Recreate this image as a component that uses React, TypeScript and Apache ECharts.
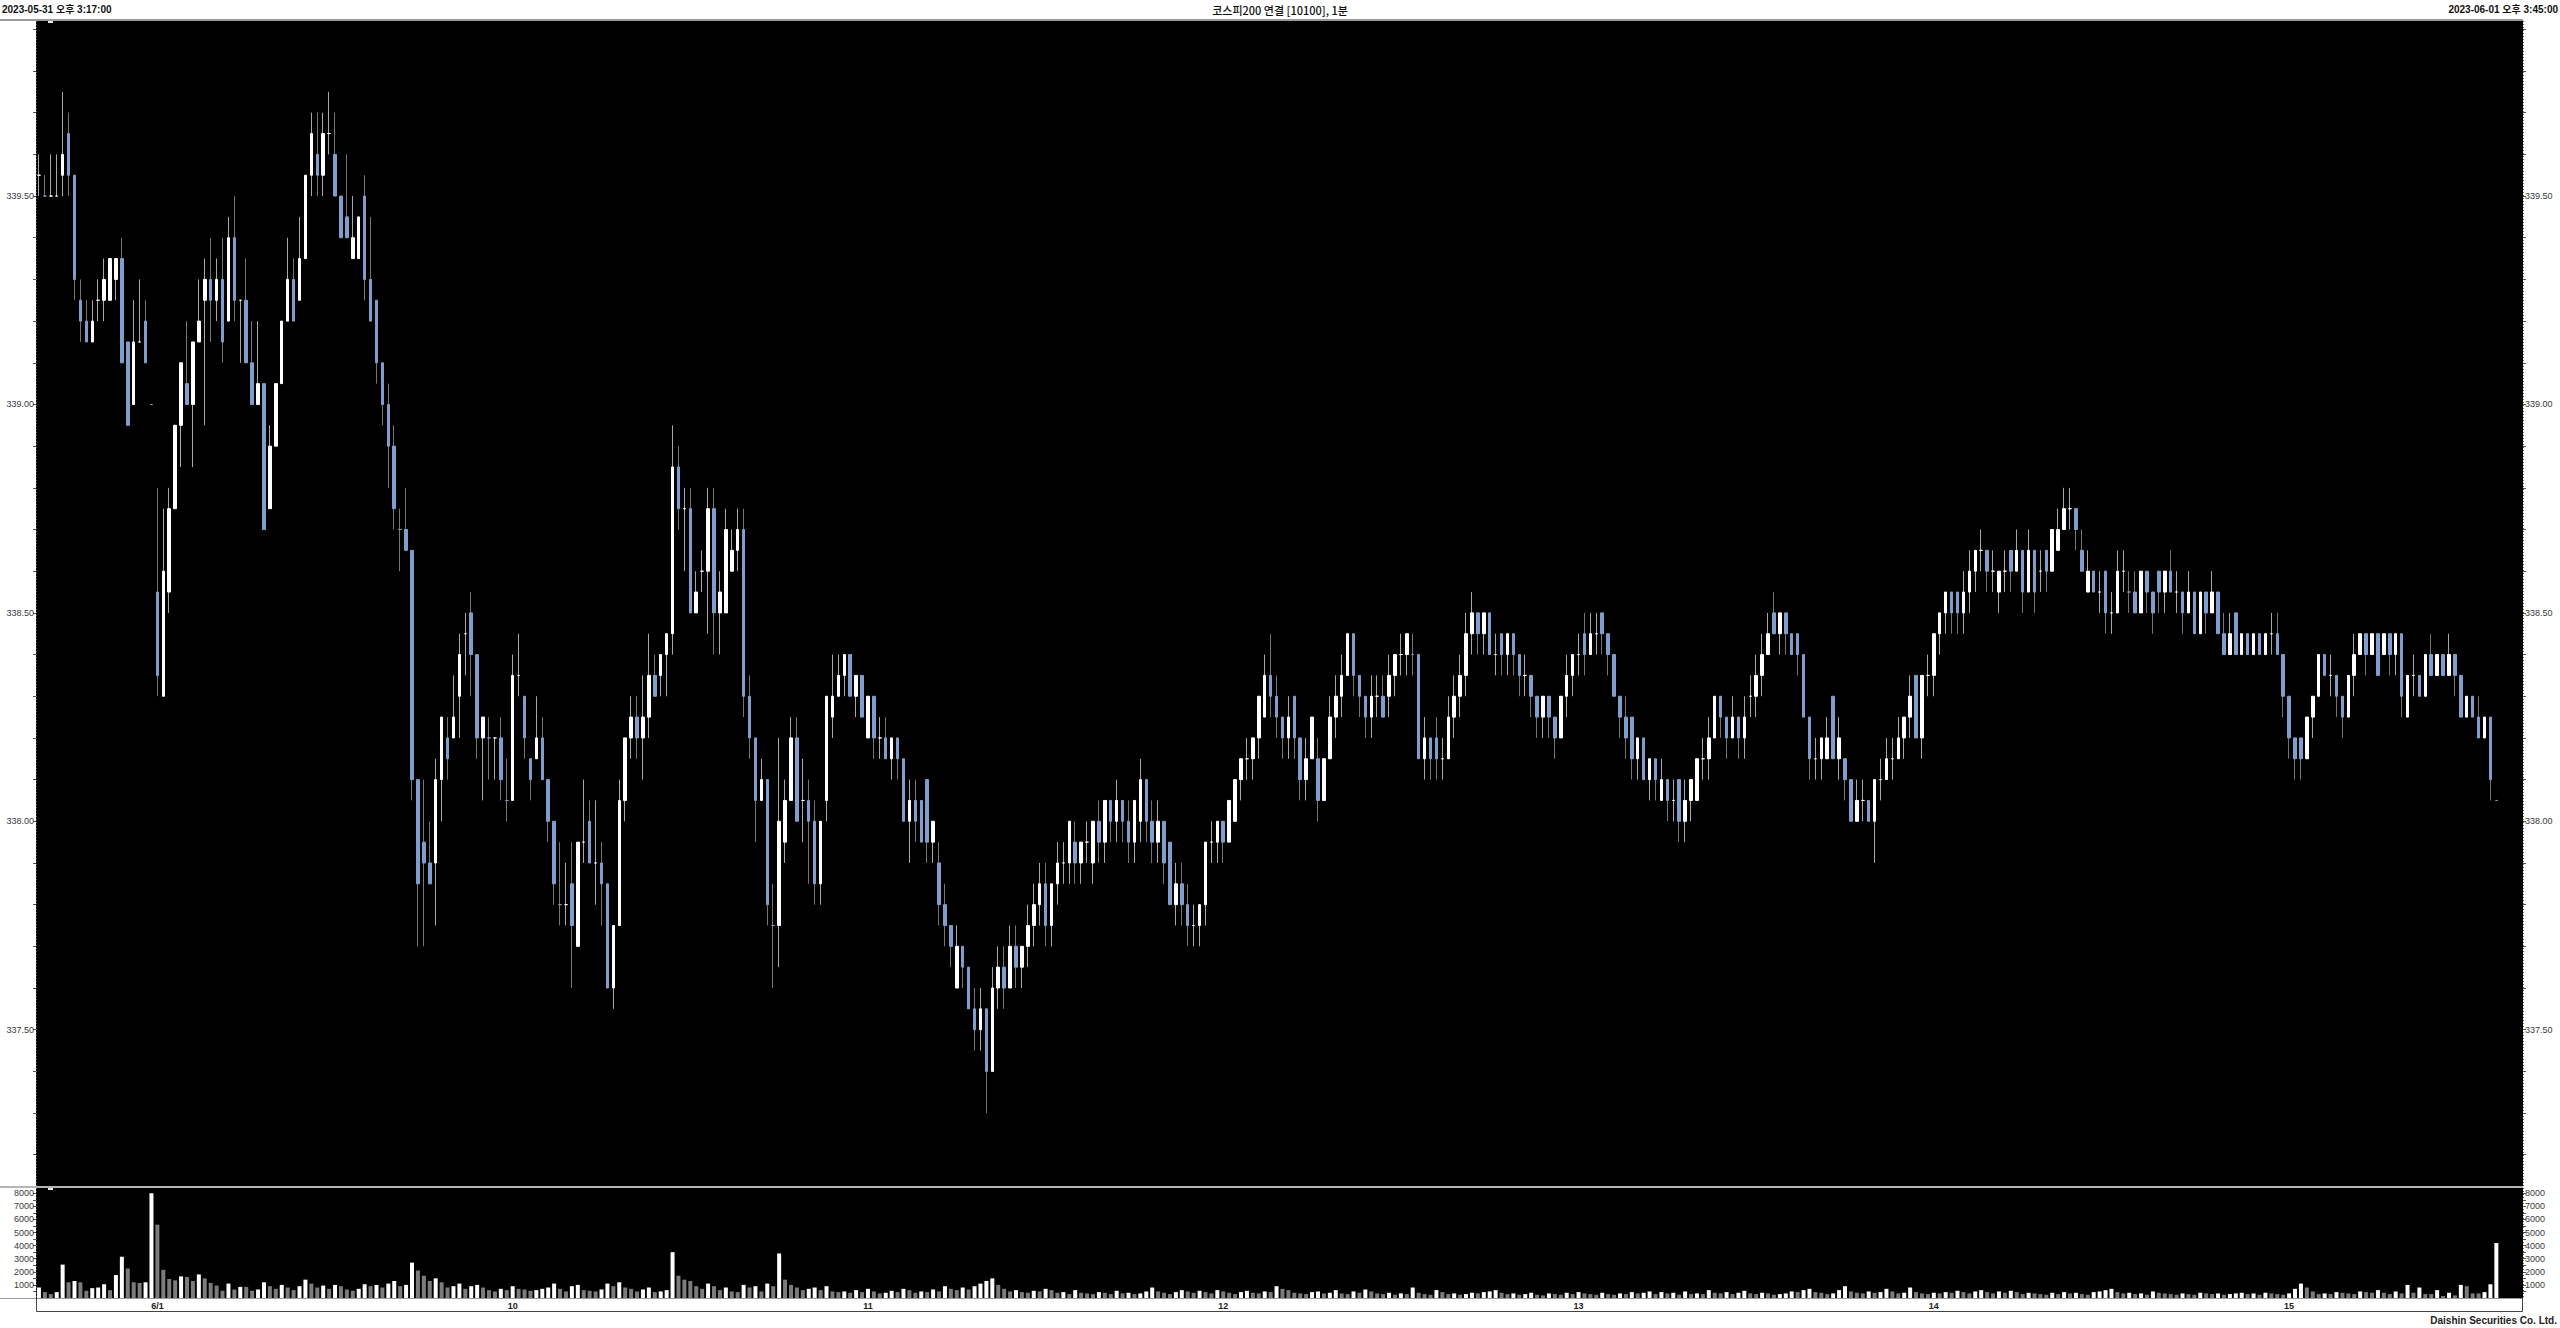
import React, { useEffect, useRef } from "react";
import * as echarts from "echarts";

const TITLE = "코스피200 연결 [10100], 1분";
const START_TEXT = "2023-05-31 오후 3:17:00";
const END_TEXT = "2023-06-01 오후 3:45:00";
const FOOTER = "Daishin Securities Co. Ltd.";

function minuteLabels(from: number, to: number): string[] {
  const out: string[] = [];
  for (let t = from; t <= to; t++) {
    const h = Math.floor(t / 60);
    const m = t % 60;
    out.push(`${h}:${m < 10 ? "0" + m : m}`);
  }
  return out;
}
const day1Times = [...minuteLabels(15 * 60 + 17, 15 * 60 + 35), "15:45"];
const day2Times = [...minuteLabels(9 * 60, 15 * 60 + 34), "15:45"];
const PAD = 4;
const categories: string[] = [
  ...day1Times.map((t) => "05/31 " + t),
  ...day2Times.map((t) => "06/01 " + t),
  ...Array.from({ length: PAD }, () => ""),
];
const DAY_BREAK = day1Times.length;

// [open, high, low, close]
const day1Candles: number[][] = [
  [339.55, 339.6, 339.5, 339.55], [339.5, 339.55, 339.5, 339.5], [339.5, 339.6, 339.5, 339.5], [339.5, 339.6, 339.5, 339.5],
  [339.55, 339.75, 339.5, 339.6], [339.65, 339.7, 339.5, 339.55], [339.55, 339.55, 339.25, 339.3], [339.25, 339.3, 339.15, 339.2],
  [339.2, 339.25, 339.15, 339.15], [339.15, 339.25, 339.15, 339.2], [339.25, 339.3, 339.2, 339.25], [339.25, 339.35, 339.2, 339.3],
  [339.25, 339.35, 339.25, 339.35], [339.3, 339.35, 339.25, 339.35], [339.35, 339.4, 339.1, 339.1], [339.15, 339.15, 338.95, 338.95],
  [339.0, 339.25, 339.0, 339.15], [339.15, 339.3, 339.15, 339.15], [339.2, 339.25, 339.1, 339.1], [339.0, 339.0, 339.0, 339.0],
];

// 6/1 09:00 - 10:55
const day2CandlesA: number[][] = [
  [338.55, 338.8, 338.3, 338.35], [338.3, 338.75, 338.3, 338.6], [338.55, 338.8, 338.5, 338.75], [338.75, 338.95, 338.75, 338.95],
  [338.95, 339.1, 338.85, 339.1], [339.05, 339.2, 339.0, 339.0], [339.0, 339.15, 338.85, 339.15], [339.15, 339.3, 339.15, 339.2],
  [339.25, 339.35, 338.95, 339.3], [339.3, 339.4, 339.15, 339.25], [339.25, 339.35, 339.2, 339.3], [339.3, 339.4, 339.1, 339.15],
  [339.2, 339.45, 339.2, 339.4], [339.4, 339.5, 339.2, 339.25], [339.25, 339.25, 339.1, 339.25], [339.25, 339.35, 339.1, 339.1],
  [339.1, 339.2, 339.0, 339.0], [339.0, 339.2, 339.0, 339.05], [339.05, 339.05, 338.7, 338.7], [338.75, 338.95, 338.75, 338.9],
  [338.9, 339.05, 338.9, 339.05], [339.05, 339.2, 339.05, 339.2], [339.2, 339.4, 339.2, 339.3], [339.3, 339.35, 339.2, 339.2],
  [339.25, 339.45, 339.25, 339.35], [339.35, 339.55, 339.35, 339.55], [339.55, 339.7, 339.5, 339.65], [339.6, 339.7, 339.5, 339.55],
  [339.55, 339.7, 339.5, 339.65], [339.65, 339.75, 339.6, 339.65], [339.6, 339.7, 339.5, 339.5], [339.5, 339.5, 339.4, 339.4],
  [339.45, 339.6, 339.4, 339.4], [339.35, 339.5, 339.35, 339.4], [339.35, 339.45, 339.35, 339.45], [339.5, 339.55, 339.25, 339.3],
  [339.3, 339.45, 339.2, 339.2], [339.25, 339.25, 339.05, 339.1], [339.1, 339.1, 338.95, 339.0], [339.0, 339.05, 338.8, 338.9],
  [338.9, 338.95, 338.7, 338.75], [338.7, 338.75, 338.6, 338.7], [338.7, 338.8, 338.65, 338.65], [338.65, 338.65, 338.05, 338.1],
  [338.1, 338.1, 337.7, 337.85], [337.95, 338.1, 337.7, 337.9], [337.9, 338.0, 337.85, 337.85], [337.9, 338.15, 337.75, 338.1],
  [338.1, 338.25, 338.0, 338.25], [338.2, 338.25, 338.1, 338.15], [338.2, 338.35, 338.2, 338.25], [338.3, 338.45, 338.2, 338.4],
  [338.45, 338.5, 338.35, 338.45], [338.5, 338.55, 338.3, 338.4], [338.4, 338.4, 338.15, 338.2], [338.2, 338.25, 338.05, 338.25],
  [338.2, 338.25, 338.1, 338.2], [338.2, 338.2, 338.1, 338.2], [338.2, 338.25, 338.05, 338.1], [338.05, 338.15, 338.0, 338.05],
  [338.05, 338.4, 338.05, 338.35], [338.35, 338.45, 338.3, 338.35], [338.3, 338.3, 338.15, 338.2], [338.15, 338.15, 338.05, 338.1],
  [338.15, 338.3, 338.15, 338.2], [338.2, 338.25, 338.1, 338.1], [338.1, 338.1, 337.95, 338.0], [338.0, 338.0, 337.8, 337.85],
  [337.8, 337.95, 337.75, 337.8], [337.8, 337.9, 337.75, 337.8], [337.85, 337.95, 337.6, 337.75], [337.7, 337.95, 337.7, 337.95],
  [337.95, 338.1, 337.9, 337.95], [338.0, 338.05, 337.9, 337.9], [337.9, 338.05, 337.8, 337.9], [337.9, 337.95, 337.75, 337.85],
  [337.85, 337.85, 337.6, 337.6], [337.6, 337.75, 337.55, 337.75], [337.75, 338.1, 337.75, 338.05], [338.05, 338.2, 338.0, 338.2],
  [338.2, 338.3, 338.15, 338.25], [338.25, 338.3, 338.15, 338.2], [338.2, 338.35, 338.1, 338.25], [338.25, 338.45, 338.2, 338.35],
  [338.35, 338.4, 338.3, 338.3], [338.35, 338.4, 338.3, 338.4], [338.4, 338.45, 338.3, 338.45], [338.45, 338.95, 338.4, 338.85],
  [338.85, 338.9, 338.7, 338.75], [338.75, 338.8, 338.6, 338.75], [338.75, 338.8, 338.5, 338.5], [338.5, 338.6, 338.5, 338.55],
  [338.6, 338.65, 338.55, 338.6], [338.6, 338.8, 338.45, 338.75], [338.75, 338.8, 338.4, 338.5], [338.5, 338.6, 338.4, 338.55],
  [338.5, 338.75, 338.5, 338.7], [338.6, 338.7, 338.6, 338.65], [338.65, 338.75, 338.6, 338.7], [338.7, 338.75, 338.25, 338.3],
  [338.3, 338.35, 338.15, 338.2], [338.2, 338.2, 337.95, 338.05], [338.05, 338.15, 338.05, 338.1], [338.1, 338.1, 337.75, 337.8],
  [337.75, 337.85, 337.6, 337.75], [337.75, 338.2, 337.65, 338.0], [337.95, 338.1, 337.9, 338.05], [338.05, 338.25, 338.05, 338.2],
  [338.2, 338.25, 338.0, 338.0], [338.05, 338.15, 337.95, 338.05], [338.05, 338.1, 337.85, 338.0], [338.0, 338.05, 337.8, 337.85],
  [337.85, 338.0, 337.8, 338.0], [338.05, 338.3, 338.0, 338.3], [338.25, 338.4, 338.2, 338.3], [338.3, 338.4, 338.3, 338.35],
];

// 6/1 10:56 - 13:15
const day2CandlesB: number[][] = [
  [338.35, 338.4, 338.3, 338.4], [338.4, 338.4, 338.3, 338.3], [338.3, 338.35, 338.25, 338.35], [338.35, 338.35, 338.25, 338.25],
  [338.2, 338.3, 338.2, 338.3], [338.3, 338.3, 338.15, 338.2], [338.2, 338.25, 338.15, 338.2], [338.2, 338.25, 338.15, 338.15],
  [338.15, 338.2, 338.1, 338.2], [338.2, 338.2, 338.1, 338.15], [338.15, 338.15, 338.0, 338.0], [338.0, 338.1, 337.9, 338.05],
  [338.05, 338.1, 337.95, 338.0], [338.05, 338.05, 337.95, 337.95], [338.1, 338.1, 337.9, 337.95], [337.95, 338.0, 337.9, 338.0],
  [337.9, 337.95, 337.75, 337.8], [337.8, 337.85, 337.7, 337.75], [337.75, 337.75, 337.65, 337.7], [337.6, 337.75, 337.6, 337.7],
  [337.7, 337.7, 337.6, 337.65], [337.65, 337.65, 337.55, 337.55], [337.55, 337.6, 337.45, 337.5], [337.5, 337.6, 337.45, 337.55],
  [337.55, 337.55, 337.3, 337.4], [337.4, 337.65, 337.4, 337.6], [337.6, 337.7, 337.55, 337.65], [337.65, 337.7, 337.55, 337.6],
  [337.6, 337.75, 337.6, 337.7], [337.7, 337.75, 337.6, 337.65], [337.65, 337.7, 337.6, 337.7], [337.7, 337.8, 337.65, 337.75],
  [337.75, 337.85, 337.7, 337.8], [337.8, 337.9, 337.75, 337.85], [337.85, 337.9, 337.7, 337.75], [337.75, 337.85, 337.7, 337.85],
  [337.85, 337.95, 337.8, 337.9], [337.9, 337.95, 337.85, 337.9], [337.9, 338.0, 337.85, 338.0], [337.95, 338.0, 337.85, 337.9],
  [337.9, 337.95, 337.85, 337.95], [337.95, 338.0, 337.9, 337.95], [337.9, 338.0, 337.85, 338.0], [338.0, 338.05, 337.9, 337.95],
  [337.95, 338.05, 337.9, 338.05], [338.05, 338.05, 337.95, 338.0], [338.0, 338.1, 337.95, 338.05], [338.05, 338.05, 337.95, 338.0],
  [338.0, 338.05, 337.9, 337.95], [337.95, 338.05, 337.9, 338.05], [338.0, 338.15, 337.95, 338.1], [338.1, 338.1, 337.95, 338.0],
  [338.0, 338.05, 337.9, 337.95], [337.95, 338.05, 337.9, 338.0], [338.0, 338.0, 337.85, 337.9], [337.95, 337.95, 337.8, 337.8],
  [337.8, 337.9, 337.75, 337.85], [337.85, 337.9, 337.75, 337.8], [337.8, 337.85, 337.7, 337.75], [337.75, 337.8, 337.7, 337.75],
  [337.75, 337.8, 337.7, 337.8], [337.8, 337.95, 337.75, 337.95], [337.95, 338.0, 337.9, 337.95], [337.95, 338.0, 337.9, 338.0],
  [338.0, 338.0, 337.9, 337.95], [337.95, 338.05, 337.95, 338.05], [338.0, 338.1, 338.0, 338.1], [338.1, 338.15, 338.05, 338.15],
  [338.15, 338.2, 338.1, 338.15], [338.15, 338.2, 338.1, 338.2], [338.2, 338.3, 338.15, 338.3], [338.25, 338.4, 338.25, 338.35],
  [338.35, 338.45, 338.25, 338.3], [338.3, 338.35, 338.2, 338.25], [338.25, 338.25, 338.15, 338.2], [338.2, 338.3, 338.15, 338.25],
  [338.3, 338.3, 338.15, 338.2], [338.2, 338.2, 338.05, 338.1], [338.1, 338.2, 338.05, 338.15], [338.15, 338.25, 338.15, 338.25],
  [338.15, 338.2, 338.0, 338.05], [338.05, 338.15, 338.05, 338.15], [338.15, 338.3, 338.15, 338.25], [338.25, 338.35, 338.2, 338.3],
  [338.3, 338.4, 338.25, 338.35], [338.35, 338.45, 338.35, 338.45], [338.45, 338.45, 338.3, 338.35], [338.35, 338.35, 338.25, 338.3],
  [338.3, 338.3, 338.2, 338.25], [338.25, 338.35, 338.2, 338.3], [338.3, 338.35, 338.25, 338.3], [338.3, 338.35, 338.25, 338.25],
  [338.3, 338.4, 338.25, 338.35], [338.35, 338.4, 338.3, 338.4], [338.4, 338.45, 338.35, 338.4], [338.4, 338.45, 338.35, 338.45],
  [338.4, 338.45, 338.35, 338.4], [338.4, 338.4, 338.15, 338.15], [338.15, 338.25, 338.1, 338.2], [338.2, 338.2, 338.1, 338.15],
  [338.2, 338.25, 338.1, 338.15], [338.15, 338.2, 338.1, 338.15], [338.15, 338.3, 338.15, 338.25], [338.25, 338.35, 338.2, 338.3],
  [338.3, 338.4, 338.25, 338.35], [338.35, 338.5, 338.3, 338.45], [338.45, 338.55, 338.4, 338.5], [338.5, 338.5, 338.4, 338.45],
  [338.45, 338.5, 338.4, 338.5], [338.5, 338.5, 338.4, 338.4], [338.4, 338.45, 338.35, 338.4], [338.45, 338.45, 338.35, 338.4],
  [338.4, 338.45, 338.35, 338.45], [338.45, 338.45, 338.35, 338.4], [338.4, 338.4, 338.3, 338.35], [338.35, 338.4, 338.3, 338.35],
  [338.35, 338.35, 338.25, 338.3], [338.3, 338.3, 338.2, 338.25], [338.25, 338.3, 338.2, 338.3], [338.3, 338.3, 338.2, 338.25],
  [338.25, 338.25, 338.15, 338.2], [338.2, 338.3, 338.2, 338.3], [338.3, 338.4, 338.25, 338.35], [338.35, 338.4, 338.3, 338.4],
  [338.4, 338.45, 338.35, 338.4], [338.45, 338.5, 338.35, 338.4], [338.4, 338.5, 338.4, 338.45], [338.45, 338.5, 338.4, 338.45],
  [338.5, 338.5, 338.4, 338.45], [338.45, 338.45, 338.35, 338.4], [338.4, 338.4, 338.3, 338.3], [338.3, 338.3, 338.2, 338.25],
];

// 6/1 13:16 - 15:45
const day2CandlesC: number[][] = [
  [338.25, 338.3, 338.15, 338.2], [338.25, 338.25, 338.1, 338.15], [338.15, 338.2, 338.1, 338.2], [338.2, 338.2, 338.1, 338.1],
  [338.1, 338.15, 338.05, 338.15], [338.15, 338.15, 338.05, 338.1], [338.05, 338.15, 338.05, 338.1], [338.1, 338.1, 338.0, 338.05],
  [338.05, 338.1, 338.0, 338.05], [338.1, 338.1, 337.95, 338.0], [338.0, 338.1, 337.95, 338.05], [338.05, 338.1, 338.0, 338.1],
  [338.05, 338.15, 338.05, 338.15], [338.15, 338.2, 338.1, 338.15], [338.15, 338.25, 338.1, 338.2], [338.2, 338.3, 338.2, 338.3],
  [338.3, 338.3, 338.2, 338.25], [338.25, 338.25, 338.15, 338.2], [338.2, 338.3, 338.2, 338.25], [338.25, 338.25, 338.15, 338.2],
  [338.2, 338.3, 338.15, 338.25], [338.3, 338.35, 338.25, 338.3], [338.3, 338.4, 338.25, 338.35], [338.35, 338.45, 338.3, 338.4],
  [338.4, 338.5, 338.4, 338.45], [338.5, 338.55, 338.45, 338.45], [338.45, 338.5, 338.4, 338.5], [338.5, 338.5, 338.4, 338.45],
  [338.45, 338.45, 338.4, 338.4], [338.45, 338.45, 338.35, 338.4], [338.4, 338.4, 338.25, 338.25], [338.25, 338.25, 338.1, 338.15],
  [338.15, 338.2, 338.1, 338.15], [338.15, 338.2, 338.1, 338.2], [338.15, 338.25, 338.15, 338.2], [338.3, 338.3, 338.15, 338.15],
  [338.15, 338.25, 338.1, 338.2], [338.15, 338.15, 338.05, 338.1], [338.1, 338.1, 338.0, 338.0], [338.0, 338.1, 338.0, 338.05],
  [338.05, 338.1, 338.0, 338.05], [338.05, 338.05, 338.0, 338.0], [338.0, 338.1, 337.9, 338.1], [338.1, 338.15, 338.05, 338.1],
  [338.1, 338.2, 338.1, 338.15], [338.15, 338.2, 338.1, 338.15], [338.15, 338.25, 338.15, 338.2], [338.2, 338.25, 338.15, 338.25],
  [338.25, 338.35, 338.2, 338.3], [338.35, 338.35, 338.2, 338.2], [338.2, 338.35, 338.15, 338.35], [338.35, 338.4, 338.3, 338.35],
  [338.35, 338.45, 338.3, 338.45], [338.45, 338.5, 338.4, 338.5], [338.5, 338.55, 338.45, 338.55], [338.55, 338.55, 338.45, 338.5],
  [338.55, 338.55, 338.45, 338.5], [338.5, 338.6, 338.45, 338.55], [338.55, 338.65, 338.5, 338.6], [338.6, 338.65, 338.55, 338.65],
  [338.65, 338.7, 338.6, 338.65], [338.65, 338.65, 338.55, 338.6], [338.6, 338.65, 338.55, 338.6], [338.55, 338.6, 338.5, 338.6],
  [338.6, 338.65, 338.55, 338.6], [338.65, 338.65, 338.55, 338.6], [338.6, 338.7, 338.6, 338.65], [338.65, 338.65, 338.5, 338.55],
  [338.55, 338.7, 338.55, 338.65], [338.65, 338.65, 338.5, 338.55], [338.6, 338.65, 338.55, 338.6], [338.65, 338.65, 338.55, 338.6],
  [338.6, 338.7, 338.6, 338.7], [338.65, 338.75, 338.65, 338.7], [338.7, 338.8, 338.7, 338.75], [338.75, 338.8, 338.7, 338.75],
  [338.75, 338.75, 338.65, 338.7], [338.65, 338.7, 338.6, 338.6], [338.55, 338.65, 338.55, 338.6], [338.6, 338.6, 338.55, 338.55],
  [338.55, 338.6, 338.5, 338.55], [338.6, 338.6, 338.45, 338.5], [338.5, 338.55, 338.45, 338.5], [338.5, 338.65, 338.5, 338.6],
  [338.6, 338.65, 338.55, 338.6], [338.55, 338.6, 338.5, 338.55], [338.55, 338.6, 338.5, 338.5], [338.5, 338.6, 338.5, 338.6],
  [338.6, 338.6, 338.5, 338.55], [338.55, 338.55, 338.45, 338.5], [338.6, 338.6, 338.5, 338.55], [338.55, 338.6, 338.5, 338.6],
  [338.6, 338.65, 338.55, 338.55], [338.55, 338.6, 338.5, 338.55], [338.55, 338.55, 338.45, 338.5], [338.5, 338.6, 338.5, 338.55],
  [338.55, 338.55, 338.45, 338.45], [338.45, 338.55, 338.45, 338.55], [338.55, 338.55, 338.45, 338.5], [338.5, 338.6, 338.5, 338.55],
  [338.55, 338.55, 338.45, 338.45], [338.45, 338.5, 338.4, 338.4], [338.4, 338.5, 338.4, 338.45], [338.5, 338.5, 338.4, 338.4],
  [338.4, 338.45, 338.4, 338.45], [338.45, 338.45, 338.4, 338.4], [338.4, 338.45, 338.4, 338.45], [338.45, 338.45, 338.4, 338.4],
  [338.4, 338.45, 338.4, 338.45], [338.45, 338.5, 338.4, 338.45], [338.45, 338.5, 338.4, 338.4], [338.4, 338.4, 338.25, 338.3],
  [338.3, 338.3, 338.15, 338.2], [338.2, 338.2, 338.1, 338.15], [338.2, 338.2, 338.1, 338.15], [338.15, 338.25, 338.15, 338.25],
  [338.25, 338.3, 338.2, 338.3], [338.3, 338.4, 338.3, 338.4], [338.4, 338.4, 338.35, 338.35], [338.35, 338.4, 338.3, 338.35],
  [338.35, 338.35, 338.25, 338.3], [338.3, 338.3, 338.2, 338.25], [338.25, 338.35, 338.25, 338.35], [338.35, 338.45, 338.3, 338.4],
  [338.4, 338.45, 338.4, 338.45], [338.45, 338.45, 338.35, 338.4], [338.4, 338.45, 338.4, 338.45], [338.45, 338.45, 338.35, 338.35],
  [338.4, 338.45, 338.4, 338.45], [338.45, 338.45, 338.35, 338.4], [338.4, 338.45, 338.35, 338.45], [338.45, 338.45, 338.25, 338.3],
  [338.25, 338.35, 338.25, 338.35], [338.35, 338.4, 338.3, 338.35], [338.35, 338.35, 338.3, 338.3], [338.3, 338.4, 338.3, 338.4],
  [338.4, 338.45, 338.35, 338.35], [338.35, 338.4, 338.35, 338.4], [338.4, 338.4, 338.35, 338.35], [338.35, 338.45, 338.35, 338.4],
  [338.4, 338.4, 338.3, 338.35], [338.35, 338.35, 338.25, 338.25], [338.25, 338.3, 338.25, 338.3], [338.3, 338.3, 338.25, 338.25],
  [338.25, 338.3, 338.2, 338.2], [338.2, 338.25, 338.2, 338.25], [338.25, 338.25, 338.05, 338.1], [338.05, 338.05, 338.05, 338.05],
];

const day1Volumes = [800, 450, 300, 450, 2550, 1200, 1300, 1200, 550, 750, 800, 1050, 600, 1750, 3150, 2250, 1200, 1150, 1200, 8000];
const day2VolumesA = [
  5600, 2150, 1450, 1350, 1650, 1600, 1300, 1800, 1500, 1150, 950, 550, 1100, 650, 850, 850, 550, 650,
  1200, 900, 700, 1000, 800, 600, 900, 1400, 1100, 800, 950, 700, 1000, 900, 650, 550, 700, 1050, 900, 1000,
  800, 1100, 1300, 900, 1000, 2700, 2100, 1700, 1300, 1500, 1200, 800, 900, 1100, 700, 900, 1000, 800, 600, 500,
  700, 600, 900, 700, 650, 550, 600, 700, 800, 1100, 700, 500, 900, 1000, 600, 550, 500, 650, 1100, 900,
  1200, 800, 700, 500, 650, 800, 450, 500, 600, 3500, 1700, 1400, 1300, 900, 700, 1100, 900, 600, 800, 500,
  450, 1000, 800, 900, 500, 1100, 900, 3400, 1400, 1000, 800, 600, 700, 800, 600, 900, 500, 450,
];
const day2VolumesB = [
  500, 400, 600, 450, 700, 500, 350, 400, 550, 450, 700, 600, 400, 500, 450, 650, 500, 900, 700, 600, 800, 650,
  900, 1100, 1300, 1500, 1000, 700, 500, 600, 450, 400, 550, 500, 700, 600, 400, 450, 300, 600, 400, 350,
  300, 450, 400, 300, 550, 350, 400, 300, 350, 500, 800, 500, 400, 300, 450, 600, 500, 400, 550, 450,
  350, 600, 500, 400, 300, 450, 550, 400, 350, 500, 450, 900, 700, 600, 400, 350, 300, 450, 500, 350,
  400, 600, 350, 300, 500, 400, 650, 500, 350, 300, 400, 250, 350, 300, 800, 400, 300, 250, 600, 450,
  300, 350, 250, 300, 400, 350, 450, 500, 600, 400, 300, 350, 250, 300, 400, 250, 200, 350, 300, 250,
  400, 300, 450, 350, 300, 250, 400, 300, 250, 350, 300, 450, 350, 400, 500, 300, 450, 350,
];
const day2VolumesC = [
  400, 250, 500, 300, 350, 300, 600, 400, 350, 450, 300, 400, 550, 350, 300, 400, 350, 250, 300, 350, 500, 450,
  600, 700, 450, 400, 300, 350, 600, 900, 500, 400, 350, 500, 400, 450, 700, 500, 350, 400, 800, 450,
  350, 300, 400, 350, 450, 400, 550, 450, 350, 500, 600, 450, 350, 500, 400, 550, 450, 300, 400, 350,
  300, 250, 400, 300, 450, 350, 400, 300, 250, 450, 500, 600, 700, 450, 350, 400, 300, 350, 250, 500,
  400, 350, 300, 250, 350, 300, 250, 400, 350, 300, 350, 250, 300, 350, 400, 300, 350, 250, 400, 350,
  300, 250, 350, 700, 1100, 800, 500, 300, 350, 300, 450, 400, 350, 300, 500, 450, 400,
  600, 400, 300, 500, 350, 1000, 400, 800, 300, 300, 600, 150, 400, 200, 1000, 900, 350, 350, 450, 1049, 4197,
];

const candles: number[][] = [...day1Candles, ...day2CandlesA, ...day2CandlesB, ...day2CandlesC];
const volumes: number[] = [...day1Volumes, ...day2VolumesA, ...day2VolumesB, ...day2VolumesC];

const priceTicks = [
  337.2, 337.3, 337.4, 337.5, 337.6, 337.7, 337.8, 337.9, 338.0, 338.1, 338.2, 338.3, 338.4, 338.5, 338.6, 338.7,
  338.8, 338.9, 339.0, 339.1, 339.2, 339.3, 339.4, 339.5, 339.6, 339.7, 339.8, 339.9,
];
const priceLabels = [337.5, 338.0, 338.5, 339.0, 339.5];
const volumeTicks = [500, 1000, 1500, 2000, 2500, 3000, 3500, 4000, 4500, 5000, 5500, 6000, 6500, 7000, 7500, 8000];
const volumeLabels = [1000, 2000, 3000, 4000, 5000, 6000, 7000, 8000];

const UP = "#ffffff";
const DOWN = "#7f9ecb";
const WICK_UP = "#a8a8a8";
const WICK_DOWN = "#747474";
const VOL_UP = "#ffffff";
const VOL_DOWN = "#7c7c7c";
const AXIS_FONT = "'Liberation Sans Narrow', 'Arial Narrow', 'Liberation Sans', sans-serif";

function xLabel(index: number): string | null {
  if (index === DAY_BREAK) return "6/1";
  const c = categories[index];
  if (!c || index < DAY_BREAK) return null;
  const t = c.split(" ")[1];
  if (t.endsWith(":00") && t !== "9:00") return t.split(":")[0];
  return null;
}

export default function App() {
  const ref = useRef<HTMLDivElement>(null);
  useEffect(() => {
    if (!ref.current) return;
    const chart = echarts.init(ref.current, null, { renderer: "svg" });

    const isUp = (c: number[], i: number) => {
      if (c[3] > c[0]) return true;
      if (c[3] < c[0]) return false;
      const p = candles[i - 1];
      return !p || p[3] <= c[3];
    };
    const wickData = candles.map((c, i) => {
      const col = isUp(c, i) ? WICK_UP : WICK_DOWN;
      return {
        value: [c[2], c[1], c[2], c[1]],
        itemStyle: { color: col, color0: col, borderColor: col, borderColor0: col },
      };
    });
    const bodyData = candles.map((c) => [c[0], c[3], Math.min(c[0], c[3]), Math.max(c[0], c[3])]);
    const volData = volumes.map((v, i) => {
      const prev = i > 0 ? volumes[i - 1] : null;
      const up = prev == null || v > prev;
      return { value: v, itemStyle: { color: up ? VOL_UP : VOL_DOWN } };
    });

    const prevClose = candles[DAY_BREAK - 1][3];
    const lastClose = candles[candles.length - 1][3];
    const pct = ((lastClose / prevClose - 1) * 100).toFixed(2) + "%";
    const lastVol = volumes[volumes.length - 1];
    const prevVol = volumes[volumes.length - 2];
    const volPct = ((lastVol / prevVol) * 100).toFixed(2) + "%";

    const splitBreak = {
      show: true,
      interval: (i: number) => i === DAY_BREAK,
      lineStyle: { color: "#5a5a5a", type: [1, 2], width: 1 },
    };

    const yCommon = (min: number, max: number, ticks: number[], labels: number[], fmt: (v: number) => string) => ({
      type: "value",
      min,
      max,
      splitLine: { show: false },
      axisLine: { show: false },
      axisTick: { show: true, length: 3, lineStyle: { color: "#555" }, customValues: ticks },
      axisLabel: {
        show: true,
        customValues: labels,
        formatter: fmt,
        color: "#3a3a3a",
        fontSize: 9,
        fontFamily: AXIS_FONT,
        margin: 2,
      },
    });

    const badge = (main: string, sub: string, bg: string, subColor: string) => ({
      show: true,
      position: "end",
      distance: 3,
      formatter: `{s| }\n{a|${main}}\n{b|${sub}}`,
      rich: {
        s: { lineHeight: 9, fontSize: 9 },
        a: { backgroundColor: bg, color: "#ffffff", fontSize: 9, lineHeight: 9, width: 34, align: "center", fontFamily: AXIS_FONT },
        b: { color: subColor, fontSize: 9, lineHeight: 9, width: 34, align: "center", fontFamily: AXIS_FONT },
      },
    });

    const option: any = {
      animation: false,
      backgroundColor: "#ffffff",
      textStyle: { fontFamily: "'Liberation Sans', Arial, sans-serif" },
      grid: [
        { left: 36, right: 37, top: 21, height: 1165, show: true, backgroundColor: "#000", borderWidth: 0 },
        { left: 36, right: 37, top: 1188, height: 110, show: true, backgroundColor: "#000", borderWidth: 0 },
      ],
      xAxis: [
        {
          type: "category",
          gridIndex: 0,
          data: categories,
          boundaryGap: true,
          axisLine: { show: false },
          axisTick: { show: false },
          axisLabel: { show: false },
          splitLine: splitBreak,
        },
        {
          type: "category",
          gridIndex: 1,
          data: categories,
          boundaryGap: true,
          axisLine: { show: false },
          axisTick: { show: false },
          axisLabel: {
            show: true,
            interval: (i: number) => xLabel(i) !== null,
            formatter: (_v: string, i: number) => xLabel(i) ?? "",
            color: "#222",
            fontSize: 9,
            fontWeight: "bold",
            fontFamily: "'Liberation Sans', Arial, sans-serif",
            margin: 3,
          },
          splitLine: splitBreak,
        },
      ],
      yAxis: [
        { ...yCommon(337.125, 339.92, priceTicks, priceLabels, (v) => v.toFixed(2)), gridIndex: 0, position: "left" },
        { ...yCommon(337.125, 339.92, priceTicks, priceLabels, (v) => v.toFixed(2)), gridIndex: 0, position: "right" },
        { ...yCommon(0, 8400, volumeTicks, volumeLabels, (v) => String(v)), gridIndex: 1, position: "left" },
        { ...yCommon(0, 8400, volumeTicks, volumeLabels, (v) => String(v)), gridIndex: 1, position: "right" },
      ],
      series: [
        {
          name: "wick",
          type: "candlestick",
          xAxisIndex: 0,
          yAxisIndex: 0,
          barWidth: 1,
          data: wickData,
          itemStyle: { color: WICK_UP, color0: WICK_DOWN, borderColor: WICK_UP, borderColor0: WICK_DOWN, borderWidth: 1 },
        },
        {
          name: "price",
          type: "candlestick",
          xAxisIndex: 0,
          yAxisIndex: 0,
          barWidth: 3,
          data: bodyData,
          itemStyle: { color: UP, color0: DOWN, borderColor: UP, borderColor0: DOWN, borderWidth: 1 },
          markLine: {
            silent: true,
            symbol: ["none", "none"],
            lineStyle: { opacity: 0 },
            data: [{ yAxis: lastClose }],
            label: badge(lastClose.toFixed(2), pct, "#6e9def", "#4f86e0"),
          },
        },
        {
          name: "volume",
          type: "bar",
          xAxisIndex: 1,
          yAxisIndex: 2,
          barWidth: 4,
          data: volData,
          markLine: {
            silent: true,
            symbol: ["none", "none"],
            lineStyle: { opacity: 0 },
            data: [{ yAxis: lastVol }],
            label: badge(lastVol.toLocaleString("en-US"), volPct, "#f27676", "#e24848"),
          },
        },
      ],
      graphic: [
        { type: "line", shape: { x1: 0, y1: 20, x2: 2523, y2: 20 }, style: { stroke: "#9a9a9a", lineWidth: 2 } },
        { type: "line", shape: { x1: 0, y1: 1187, x2: 2523, y2: 1187 }, style: { stroke: "#b4b4b4", lineWidth: 2 } },
        { type: "line", shape: { x1: 0, y1: 1298.5, x2: 2523, y2: 1298.5 }, style: { stroke: "#9a9a9a", lineWidth: 1 } },
        {
          type: "polyline",
          shape: { points: [[36.5, 1298], [36.5, 1311.5], [2522.5, 1311.5], [2522.5, 1298]] },
          style: { stroke: "#444", lineWidth: 1, fill: null },
        },
        { type: "rect", shape: { x: 48, y: 21, width: 5, height: 2 }, style: { fill: "#e8e8e8" } },
        { type: "rect", shape: { x: 48, y: 1188, width: 5, height: 2 }, style: { fill: "#e8e8e8" } },
        {
          type: "text",
          x: 2,
          y: 9,
          style: {
            text: START_TEXT,
            fill: "#111",
            font: "bold 10px 'Liberation Sans', 'Noto Sans CJK KR', sans-serif",
            align: "left",
            verticalAlign: "middle",
          },
        },
        {
          type: "text",
          x: 1280,
          y: 10,
          style: {
            text: TITLE,
            fill: "#111",
            font: "500 11px 'Noto Sans CJK KR', 'Liberation Sans', sans-serif",
            align: "center",
            verticalAlign: "middle",
          },
        },
        {
          type: "text",
          x: 2558,
          y: 9,
          style: {
            text: END_TEXT,
            fill: "#111",
            font: "bold 10px 'Liberation Sans', 'Noto Sans CJK KR', sans-serif",
            align: "right",
            verticalAlign: "middle",
          },
        },
        {
          type: "text",
          x: 2557,
          y: 1320,
          style: {
            text: FOOTER,
            fill: "#222",
            font: "bold 10px 'Liberation Sans', sans-serif",
            align: "right",
            verticalAlign: "middle",
          },
        },
      ],
    };
    chart.setOption(option);
    return () => chart.dispose();
  }, []);
  return <div ref={ref} style={{ position: "absolute", left: 0, top: 0, width: 2560, height: 1328 }} />;
}
